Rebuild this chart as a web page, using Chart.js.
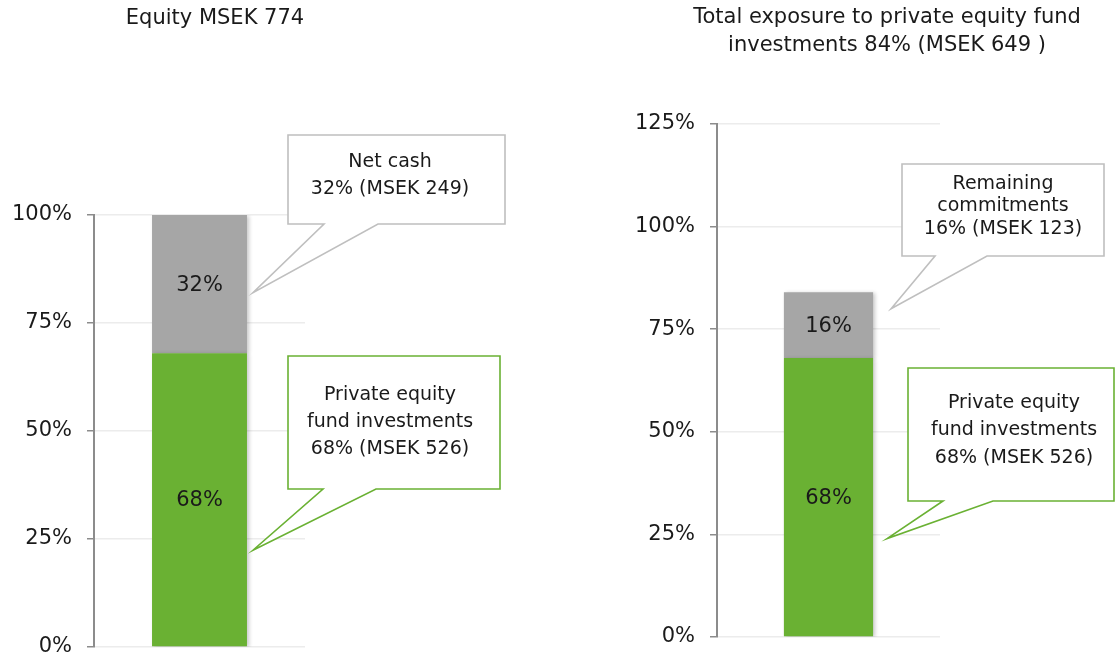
<!DOCTYPE html>
<html>
<head>
<meta charset="utf-8">
<script src="https://cdn.jsdelivr.net/npm/chart.js@4.4.1/dist/chart.umd.min.js"></script>
<style>
  html, body { margin: 0; padding: 0; background: #fff; }
  #wrap { position: relative; width: 1115px; height: 663px; overflow: hidden; }
  .box { position: absolute; top: 0; height: 675px; }
</style>
</head>
<body>
<div id="wrap">
  <div class="box" style="left:0;width:557px"><canvas id="left"></canvas></div>
  <div class="box" style="left:557px;width:558px"><canvas id="right"></canvas></div>
</div>
<script>
const FONT = '"DejaVu Sans", Verdana, sans-serif';
const GREEN = '#6ab133';
const GREY = '#a6a6a6';
const TEXT = '#1a1a1a';

// left chart: how equity is split
const equityCats = ['Equity'];
const equityPE = [68];
const equityCash = [32];
const equityTitle = ['Equity MSEK 774'];
const equityMax = 100;

// right chart: total exposure to fund investments
const exposureCats = ['Exposure'];
const exposurePE = [68];
const exposureRemaining = [16];
const exposureTitle = ['Total exposure to private equity fund', 'investments 84% (MSEK 649 )'];
const exposureMax = 125;

const tickStep = 25;

// callout texts
const cashNote = ['Net cash', '32% (MSEK 249)'];
const peNote = ['Private equity', 'fund investments', '68% (MSEK 526)'];
const remainingNote = ['Remaining', 'commitments', '16% (MSEK 123)'];

// soft shadow under the bars
const barShadow = {
  id: 'barShadow',
  beforeDatasetsDraw(chart) {
    const ctx = chart.ctx;
    ctx.save();
    ctx.shadowColor = 'rgba(0,0,0,0.22)';
    ctx.shadowBlur = 4;
    ctx.shadowOffsetX = 2;
    ctx.shadowOffsetY = 1;
  },
  afterDatasetsDraw(chart) {
    chart.ctx.restore();
  }
};

// percentage written in the middle of each segment
const segmentLabels = {
  id: 'segmentLabels',
  afterDatasetsDraw(chart) {
    const ctx = chart.ctx;
    ctx.save();
    ctx.font = '21px ' + FONT;
    ctx.fillStyle = TEXT;
    ctx.textAlign = 'center';
    ctx.textBaseline = 'middle';
    chart.data.datasets.forEach((ds, i) => {
      chart.getDatasetMeta(i).data.forEach((el, j) => {
        ctx.fillText(ds.data[j] + '%', el.x, (el.y + el.base) / 2 + 1);
      });
    });
    ctx.restore();
  }
};

// titles and speech-bubble callouts
const notes = {
  id: 'notes',
  afterDraw(chart, args, opts) {
    const ctx = chart.ctx;
    const y = chart.scales.y;
    const bar = chart.getDatasetMeta(0).data[0];
    const barRight = bar.x + bar.width / 2;

    ctx.save();
    ctx.fillStyle = TEXT;
    ctx.textAlign = 'center';
    ctx.textBaseline = 'middle';
    ctx.font = '21px ' + FONT;
    opts.title.forEach((t, i) => ctx.fillText(t, opts.titleX, opts.titleY + i * 28));

    opts.callouts.forEach(c => {
      const px = barRight + c.dx;
      const py = y.getPixelForValue(c.at);
      ctx.beginPath();
      ctx.moveTo(c.x1, c.y1);
      ctx.lineTo(c.x2, c.y1);
      ctx.lineTo(c.x2, c.y2);
      ctx.lineTo(c.tailB, c.y2);
      ctx.lineTo(px, py);
      ctx.lineTo(c.tailA, c.y2);
      ctx.lineTo(c.x1, c.y2);
      ctx.closePath();
      ctx.fillStyle = '#fff';
      ctx.fill();
      ctx.lineWidth = 1.6;
      ctx.strokeStyle = c.color;
      ctx.stroke();

      ctx.fillStyle = TEXT;
      ctx.font = '19px ' + FONT;
      c.lines.forEach((t, i) => ctx.fillText(t, c.textX, c.textY + i * c.gap));
    });
    ctx.restore();
  }
};

function makeChart(id, cats, sets, max, axisWidth, pad, noteOpts, barPct) {
  return new Chart(document.getElementById(id), {
    type: 'bar',
    data: {
      labels: cats,
      datasets: sets.map(s => ({
        data: s.data,
        backgroundColor: s.color,
        borderWidth: 0,
        barPercentage: barPct,
        categoryPercentage: 1
      }))
    },
    options: {
      responsive: true,
      maintainAspectRatio: false,
      animation: false,
      layout: { padding: pad },
      plugins: {
        legend: { display: false },
        tooltip: { enabled: false },
        title: { display: false },
        notes: noteOpts
      },
      scales: {
        x: { stacked: true, display: false },
        y: {
          stacked: true,
          min: 0,
          max: max,
          ticks: {
            stepSize: tickStep,
            padding: 15,
            color: TEXT,
            font: { family: FONT, size: 21 },
            callback: v => v + '%'
          },
          grid: {
            color: '#ececec',
            lineWidth: 1.5,
            tickColor: '#8c8c8c',
            tickLength: 7
          },
          border: { color: '#8c8c8c', width: 2 },
          afterFit(scale) { scale.width = axisWidth; }
        }
      }
    },
    plugins: [barShadow, segmentLabels, notes]
  });
}

makeChart('left', equityCats,
  [{ data: equityPE, color: GREEN }, { data: equityCash, color: GREY }],
  equityMax, 94, { left: 0, right: 252, top: 215, bottom: 28 },
  {
    title: equityTitle, titleX: 215, titleY: 19,
    callouts: [
      { x1: 288, y1: 135, x2: 505, y2: 224, tailA: 324, tailB: 378, dx: 6, at: 82,
        color: '#bfbfbf', lines: cashNote, textX: 390, textY: 162, gap: 27 },
      { x1: 288, y1: 356, x2: 500, y2: 489, tailA: 323, tailB: 376, dx: 6, at: 22.4,
        color: GREEN, lines: peNote, textX: 390, textY: 395, gap: 27 }
    ]
  }, 0.45);

makeChart('right', exposureCats,
  [{ data: exposurePE, color: GREEN }, { data: exposureRemaining, color: GREY }],
  exposureMax, 160, { left: 0, right: 175, top: 124, bottom: 38 },
  {
    title: exposureTitle, titleX: 330, titleY: 18,
    callouts: [
      { x1: 345, y1: 164, x2: 547, y2: 256, tailA: 378, tailB: 430, dx: 18, at: 80,
        color: '#bfbfbf', lines: remainingNote, textX: 446, textY: 184, gap: 22.5 },
      { x1: 351, y1: 368, x2: 557, y2: 501, tailA: 386, tailB: 436, dx: 14, at: 24,
        color: GREEN, lines: peNote, textX: 457, textY: 403, gap: 27.5 }
    ]
  }, 0.40);
</script>
</body>
</html>
